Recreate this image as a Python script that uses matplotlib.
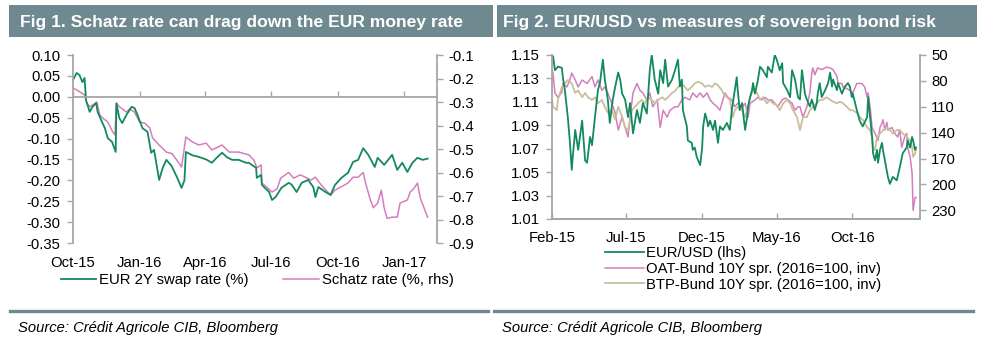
import numpy as np
import pandas as pd
import matplotlib
matplotlib.use("Agg")
import matplotlib.pyplot as plt
import matplotlib.dates as mdates
from matplotlib.patches import Rectangle
from matplotlib.lines import Line2D

plt.rcParams['font.family'] = ['Liberation Sans', 'DejaVu Sans']
plt.rcParams['axes.unicode_minus'] = False

HEAD = '#6E8A90'
SPINE = '#A6A6A6'
GREEN = '#138A5E'
PINK = '#D47DBF'
BEIGE = '#C9BF9B'

# ---------------- Fig 1 data ----------------
swap_dates = ["2015-10-01", "2015-10-06", "2015-10-10", "2015-10-14", "2015-10-17", "2015-10-19",
              "2015-10-24", "2015-10-28", "2015-11-02", "2015-11-04", "2015-11-10", "2015-11-14",
              "2015-11-18", "2015-11-24", "2015-11-29", "2015-11-30", "2015-12-04", "2015-12-08",
              "2015-12-14", "2015-12-21", "2015-12-25", "2015-12-29", "2016-01-05", "2016-01-12",
              "2016-01-17", "2016-01-21", "2016-01-28", "2016-02-02", "2016-02-07", "2016-02-14",
              "2016-02-21", "2016-02-28", "2016-03-03", "2016-03-05", "2016-03-14", "2016-03-23",
              "2016-04-02", "2016-04-10", "2016-04-17", "2016-04-24", "2016-05-01", "2016-05-08",
              "2016-05-17", "2016-05-27", "2016-05-31", "2016-06-10", "2016-06-11", "2016-06-17",
              "2016-06-18", "2016-06-28", "2016-07-02", "2016-07-07", "2016-07-15", "2016-07-25",
              "2016-07-29", "2016-08-05", "2016-08-12", "2016-08-21", "2016-08-28", "2016-08-31",
              "2016-09-04", "2016-09-14", "2016-09-21", "2016-09-27", "2016-10-06", "2016-10-15",
              "2016-10-22", "2016-10-29", "2016-11-05", "2016-11-12", "2016-11-21", "2016-11-25",
              "2016-12-04", "2016-12-15", "2016-12-22", "2016-12-29", "2017-01-05", "2017-01-12",
              "2017-01-19", "2017-01-26", "2017-02-02"]
swap_vals = [0.040, 0.057, 0.052, 0.035, 0.045, -0.008,
             -0.036, -0.024, -0.015, -0.036, -0.060, -0.075,
             -0.099, -0.108, -0.132, -0.016, -0.051, -0.063,
             -0.043, -0.024, -0.027, -0.043, -0.075, -0.084,
             -0.134, -0.127, -0.199, -0.170, -0.151, -0.165,
             -0.190, -0.218, -0.200, -0.132, -0.140, -0.144,
             -0.150, -0.158, -0.145, -0.134, -0.145, -0.151,
             -0.151, -0.158, -0.158, -0.170, -0.194, -0.187,
             -0.211, -0.228, -0.247, -0.240, -0.218, -0.206,
             -0.210, -0.228, -0.206, -0.199, -0.216, -0.240,
             -0.216, -0.228, -0.235, -0.211, -0.194, -0.182,
             -0.156, -0.151, -0.123, -0.139, -0.168, -0.146,
             -0.163, -0.139, -0.175, -0.158, -0.180, -0.158,
             -0.146, -0.151, -0.148]

schatz_dates = ["2015-10-01", "2015-10-06", "2015-10-13", "2015-10-17", "2015-10-20", "2015-10-24",
                "2015-10-28", "2015-11-03", "2015-11-07", "2015-11-11", "2015-11-18", "2015-11-25",
                "2015-11-28", "2015-11-30", "2015-12-04", "2015-12-14", "2015-12-18", "2015-12-25",
                "2016-01-01", "2016-01-08", "2016-01-15", "2016-01-19", "2016-01-28", "2016-02-07",
                "2016-02-15", "2016-02-21", "2016-02-28", "2016-03-05", "2016-03-14", "2016-03-23",
                "2016-04-02", "2016-04-10", "2016-04-24", "2016-05-04", "2016-05-17", "2016-05-31",
                "2016-06-07", "2016-06-11", "2016-06-17", "2016-06-18", "2016-06-24", "2016-07-02",
                "2016-07-09", "2016-07-14", "2016-07-25", "2016-08-01", "2016-08-10", "2016-08-17",
                "2016-08-25", "2016-08-31", "2016-09-08", "2016-09-21", "2016-09-27", "2016-10-06",
                "2016-10-15", "2016-10-22", "2016-10-29", "2016-11-05", "2016-11-09", "2016-11-15",
                "2016-11-19", "2016-11-25", "2016-11-30", "2016-12-04", "2016-12-08", "2016-12-15",
                "2016-12-22", "2016-12-26", "2017-01-05", "2017-01-09", "2017-01-14", "2017-01-19",
                "2017-01-23", "2017-01-28", "2017-02-02"]
schatz_vals = [-0.240, -0.249, -0.262, -0.270, -0.304, -0.320,
               -0.313, -0.300, -0.355, -0.368, -0.385, -0.428,
               -0.440, -0.304, -0.320, -0.343, -0.330, -0.343,
               -0.385, -0.390, -0.410, -0.453, -0.483, -0.513,
               -0.520, -0.545, -0.577, -0.449, -0.470, -0.483,
               -0.475, -0.504, -0.483, -0.513, -0.513, -0.525,
               -0.547, -0.580, -0.568, -0.645, -0.660, -0.683,
               -0.670, -0.624, -0.600, -0.624, -0.610, -0.620,
               -0.632, -0.620, -0.653, -0.696, -0.675, -0.660,
               -0.645, -0.620, -0.620, -0.600, -0.653, -0.717,
               -0.750, -0.730, -0.675, -0.750, -0.795, -0.790,
               -0.790, -0.730, -0.717, -0.683, -0.668, -0.645,
               -0.710, -0.750, -0.790]

fig1_xticks = ["2015-10-01", "2016-01-01", "2016-04-01", "2016-07-01", "2016-10-01", "2017-01-01"]
fig1_left_ticks = [0.10, 0.05, 0.00, -0.05, -0.10, -0.15, -0.20, -0.25, -0.30, -0.35]
fig1_right_ticks = [-0.1, -0.2, -0.3, -0.4, -0.5, -0.6, -0.7, -0.8, -0.9]

# ---------------- Fig 2 data ----------------
eur_dates = ["2015-02-01", "2015-02-03", "2015-02-07", "2015-02-13", "2015-02-21", "2015-02-23",
             "2015-02-27", "2015-03-05", "2015-03-09", "2015-03-13", "2015-03-15", "2015-03-20",
             "2015-03-26", "2015-04-03", "2015-04-09", "2015-04-13", "2015-04-19", "2015-04-23",
             "2015-04-29", "2015-05-05", "2015-05-09", "2015-05-15", "2015-05-19", "2015-05-25",
             "2015-05-29", "2015-06-04", "2015-06-09", "2015-06-15", "2015-06-19", "2015-06-23",
             "2015-06-29", "2015-07-05", "2015-07-09", "2015-07-15", "2015-07-23", "2015-07-29",
             "2015-08-04", "2015-08-12", "2015-08-18", "2015-08-22", "2015-08-28", "2015-09-04",
             "2015-09-08", "2015-09-14", "2015-09-18", "2015-09-24", "2015-10-02", "2015-10-08",
             "2015-10-14", "2015-10-18", "2015-10-22", "2015-10-24", "2015-11-01", "2015-11-03",
             "2015-11-11", "2015-11-13", "2015-11-17", "2015-11-21", "2015-11-28", "2015-12-02",
             "2015-12-04", "2015-12-08", "2015-12-12", "2015-12-14", "2015-12-18", "2015-12-24",
             "2015-12-28", "2016-01-03", "2016-01-07", "2016-01-13", "2016-01-21", "2016-01-27",
             "2016-01-31", "2016-02-06", "2016-02-10", "2016-02-12", "2016-02-16", "2016-02-21",
             "2016-02-23", "2016-02-27", "2016-03-02", "2016-03-04", "2016-03-08", "2016-03-12",
             "2016-03-14", "2016-03-18", "2016-03-24", "2016-03-28", "2016-04-03", "2016-04-11",
             "2016-04-13", "2016-04-21", "2016-04-27", "2016-05-01", "2016-05-07", "2016-05-12",
             "2016-05-14", "2016-05-22", "2016-05-28", "2016-06-01", "2016-06-07", "2016-06-13",
             "2016-06-17", "2016-06-21", "2016-06-23", "2016-06-27", "2016-07-01", "2016-07-07",
             "2016-07-11", "2016-07-17", "2016-07-21", "2016-07-23", "2016-07-27", "2016-07-31",
             "2016-08-07", "2016-08-13", "2016-08-17", "2016-08-21", "2016-08-23", "2016-08-31",
             "2016-09-02", "2016-09-10", "2016-09-16", "2016-09-22", "2016-09-26", "2016-09-30",
             "2016-10-02", "2016-10-10", "2016-10-16", "2016-10-22", "2016-10-31", "2016-11-02",
             "2016-11-06", "2016-11-10", "2016-11-12", "2016-11-16", "2016-11-20", "2016-11-22",
             "2016-11-26", "2016-11-30", "2016-12-02", "2016-12-06", "2016-12-12", "2016-12-16",
             "2016-12-22", "2016-12-30", "2017-01-05", "2017-01-11", "2017-01-19", "2017-01-21",
             "2017-01-26", "2017-01-30", "2017-02-01", "2017-02-05", "2017-02-07"]
eur_vals = [1.146, 1.149, 1.137, 1.140, 1.139, 1.131,
            1.120, 1.097, 1.077, 1.052, 1.063, 1.086,
            1.069, 1.094, 1.060, 1.058, 1.080, 1.073,
            1.097, 1.120, 1.126, 1.146, 1.129, 1.112,
            1.092, 1.112, 1.123, 1.135, 1.129, 1.117,
            1.112, 1.097, 1.109, 1.083, 1.103, 1.092,
            1.109, 1.100, 1.137, 1.150, 1.129, 1.117,
            1.137, 1.126, 1.146, 1.123, 1.129, 1.137,
            1.146, 1.123, 1.129, 1.103, 1.089, 1.077,
            1.075, 1.069, 1.071, 1.063, 1.056, 1.071,
            1.089, 1.100, 1.094, 1.089, 1.094, 1.086,
            1.094, 1.075, 1.089, 1.086, 1.092, 1.086,
            1.103, 1.120, 1.131, 1.120, 1.103, 1.109,
            1.100, 1.086, 1.097, 1.106, 1.114, 1.120,
            1.126, 1.117, 1.129, 1.140, 1.137, 1.131,
            1.140, 1.135, 1.150, 1.146, 1.137, 1.143,
            1.126, 1.120, 1.114, 1.137, 1.129, 1.114,
            1.112, 1.137, 1.131, 1.117, 1.112, 1.106,
            1.112, 1.103, 1.109, 1.117, 1.126, 1.114,
            1.120, 1.126, 1.135, 1.123, 1.129, 1.120,
            1.126, 1.117, 1.123, 1.126, 1.123, 1.114,
            1.117, 1.103, 1.094, 1.089, 1.097, 1.114,
            1.097, 1.080, 1.066, 1.060, 1.069, 1.058,
            1.069, 1.075, 1.069, 1.060, 1.046, 1.040,
            1.046, 1.043, 1.054, 1.066, 1.071, 1.077,
            1.071, 1.080, 1.077, 1.069, 1.071]

oat_dates = ["2015-02-01", "2015-02-03", "2015-02-07", "2015-02-13", "2015-02-21", "2015-02-23",
             "2015-03-03", "2015-03-09", "2015-03-13", "2015-03-20", "2015-03-26", "2015-04-03",
             "2015-04-13", "2015-04-23", "2015-04-29", "2015-05-05", "2015-05-13", "2015-05-19",
             "2015-05-25", "2015-06-02", "2015-06-09", "2015-06-15", "2015-06-23", "2015-06-29",
             "2015-07-05", "2015-07-09", "2015-07-15", "2015-07-23", "2015-07-29", "2015-08-04",
             "2015-08-12", "2015-08-18", "2015-08-24", "2015-09-02", "2015-09-08", "2015-09-14",
             "2015-09-22", "2015-09-28", "2015-10-08", "2015-10-14", "2015-10-22", "2015-10-28",
             "2015-11-07", "2015-11-13", "2015-11-21", "2015-11-28", "2015-12-04", "2015-12-12",
             "2015-12-18", "2015-12-24", "2016-01-01", "2016-01-07", "2016-01-11", "2016-01-17",
             "2016-01-23", "2016-01-31", "2016-02-06", "2016-02-12", "2016-02-21", "2016-02-27",
             "2016-03-04", "2016-03-08", "2016-03-18", "2016-03-24", "2016-04-01", "2016-04-07",
             "2016-04-13", "2016-04-21", "2016-04-27", "2016-05-03", "2016-05-12", "2016-05-18",
             "2016-05-24", "2016-06-01", "2016-06-07", "2016-06-13", "2016-06-17", "2016-06-23",
             "2016-07-01", "2016-07-07", "2016-07-11", "2016-07-13", "2016-07-17", "2016-07-23",
             "2016-07-31", "2016-08-10", "2016-08-17", "2016-08-23", "2016-08-31", "2016-09-02",
             "2016-09-10", "2016-09-12", "2016-09-20", "2016-09-26", "2016-10-02", "2016-10-10",
             "2016-10-20", "2016-10-26", "2016-10-31", "2016-11-02", "2016-11-06", "2016-11-10",
             "2016-11-16", "2016-11-22", "2016-11-26", "2016-11-30", "2016-12-02", "2016-12-06",
             "2016-12-10", "2016-12-12", "2016-12-20", "2016-12-26", "2017-01-01", "2017-01-05",
             "2017-01-09", "2017-01-15", "2017-01-19", "2017-01-21", "2017-01-26", "2017-01-30",
             "2017-02-01", "2017-02-05", "2017-02-07"]
oat_vals = [67, 71, 94, 99, 93, 83,
            87, 79, 71, 79, 87, 79,
            83, 75, 87, 79, 91, 87,
            94, 106, 117, 137, 122, 134,
            145, 122, 94, 83, 91, 94,
            102, 94, 110, 102, 134, 114,
            122, 114, 110, 110, 102, 99,
            102, 94, 99, 94, 99, 94,
            102, 106, 110, 114, 106, 94,
            99, 102, 110, 106, 110, 106,
            122, 106, 102, 99, 102, 99,
            102, 102, 106, 110, 102, 100,
            102, 106, 114, 110, 110, 122,
            110, 94, 71, 65, 73, 65,
            67, 64, 65, 67, 75, 83,
            83, 87, 89, 91, 94, 83,
            83, 87, 99, 94, 110, 134,
            141, 149, 134, 129, 125, 137,
            128, 137, 134, 141, 145, 137,
            157, 145, 141, 157, 168, 187,
            230, 215, 215]

btp_dates = ["2015-02-01", "2015-02-03", "2015-02-11", "2015-02-13", "2015-02-21", "2015-02-27",
             "2015-03-05", "2015-03-13", "2015-03-20", "2015-03-26", "2015-04-03", "2015-04-09",
             "2015-04-15", "2015-04-23", "2015-04-29", "2015-05-05", "2015-05-13", "2015-05-19",
             "2015-05-25", "2015-06-02", "2015-06-09", "2015-06-15", "2015-06-23", "2015-06-29",
             "2015-07-05", "2015-07-13", "2015-07-19", "2015-07-25", "2015-08-02", "2015-08-08",
             "2015-08-14", "2015-08-22", "2015-08-28", "2015-09-04", "2015-09-12", "2015-09-18",
             "2015-09-24", "2015-10-02", "2015-10-08", "2015-10-14", "2015-10-22", "2015-10-28",
             "2015-11-03", "2015-11-11", "2015-11-17", "2015-11-23", "2015-12-02", "2015-12-08",
             "2015-12-14", "2015-12-22", "2015-12-28", "2016-01-03", "2016-01-11", "2016-01-13",
             "2016-01-21", "2016-01-27", "2016-02-02", "2016-02-06", "2016-02-12", "2016-02-21",
             "2016-02-27", "2016-03-02", "2016-03-08", "2016-03-14", "2016-03-22", "2016-03-28",
             "2016-04-03", "2016-04-11", "2016-04-17", "2016-04-23", "2016-05-01", "2016-05-07",
             "2016-05-14", "2016-05-22", "2016-05-28", "2016-06-03", "2016-06-11", "2016-06-17",
             "2016-06-23", "2016-07-01", "2016-07-07", "2016-07-13", "2016-07-21", "2016-07-27",
             "2016-08-02", "2016-08-10", "2016-08-17", "2016-08-23", "2016-08-31", "2016-09-06",
             "2016-09-12", "2016-09-20", "2016-09-26", "2016-10-02", "2016-10-10", "2016-10-16",
             "2016-10-22", "2016-10-31", "2016-11-06", "2016-11-10", "2016-11-12", "2016-11-16",
             "2016-11-20", "2016-11-26", "2016-12-02", "2016-12-10", "2016-12-16", "2016-12-22",
             "2016-12-30", "2017-01-05", "2017-01-11", "2017-01-19", "2017-01-26", "2017-01-30",
             "2017-02-01", "2017-02-05", "2017-02-07"]
btp_vals = [102, 110, 114, 102, 87, 83,
            79, 83, 94, 91, 99, 94,
            99, 102, 99, 106, 102, 110,
            117, 114, 125, 110, 122, 134,
            137, 114, 110, 106, 102, 106,
            99, 102, 106, 102, 99, 102,
            99, 94, 92, 87, 83, 87,
            91, 87, 83, 81, 83, 87,
            85, 87, 83, 85, 91, 94,
            99, 102, 122, 114, 110, 114,
            122, 114, 99, 91, 94, 102,
            99, 106, 102, 106, 108, 114,
            106, 102, 106, 114, 122, 137,
            122, 122, 114, 110, 106, 102,
            102, 99, 102, 104, 106, 104,
            106, 110, 114, 114, 117, 122,
            125, 134, 137, 145, 157, 160,
            145, 141, 137, 134, 137, 141,
            137, 137, 141, 145, 149, 157,
            168, 164, 160]

fig2_xticks = ["2015-02-01", "2015-07-01", "2015-12-01", "2016-05-01", "2016-10-01"]
fig2_left_ticks = [1.01, 1.03, 1.05, 1.07, 1.09, 1.11, 1.13, 1.15]
fig2_right_ticks = [50, 80, 110, 140, 170, 200, 230]

TICK_FS = 10.7


def style_axes(ax, axr):
    for a in (ax, axr):
        a.spines['top'].set_visible(False)
        for s in a.spines.values():
            s.set_color(SPINE)
            s.set_linewidth(1.3)
    ax.spines['right'].set_visible(False)
    axr.spines['left'].set_visible(False)
    ax.tick_params(axis='y', direction='out', length=4, width=1, color=SPINE,
                   labelsize=TICK_FS, pad=5)
    axr.tick_params(axis='y', direction='out', length=4, width=1, color=SPINE,
                    labelsize=TICK_FS, pad=4)
    # left-axis line on top of the right-axis lines
    ax.set_zorder(axr.get_zorder() + 1)
    ax.patch.set_visible(False)


fig = plt.figure(figsize=(10, 3.49), dpi=100)

# title bars
for x0, w, tx, title in [(0.009, 0.484, 0.020, 'Fig 1. Schatz rate can drag down the EUR money rate'),
                         (0.497, 0.480, 0.503, 'Fig 2. EUR/USD vs measures of sovereign bond risk')]:
    fig.add_artist(Rectangle((x0, 1 - 37 / 349), w, 32 / 349, transform=fig.transFigure,
                             facecolor=HEAD, edgecolor='none'))
    fig.text(tx, 1 - 22 / 349, title, color='white', fontweight='bold', fontsize=12.6,
             va='center', ha='left')

# ---------------- Fig 1 ----------------
ax1 = fig.add_axes([0.073, 0.3037, 0.364, 0.5387])
ax1r = ax1.twinx()
l_swap, = ax1.plot(pd.to_datetime(swap_dates), swap_vals, color=GREEN, lw=1.3)
l_sch, = ax1r.plot(pd.to_datetime(schatz_dates), schatz_vals, color=PINK, lw=1.1)
style_axes(ax1, ax1r)

ax1.set_ylim(-0.35, 0.10)
ax1.set_yticks(fig1_left_ticks)
ax1.set_yticklabels([f'{v:.2f}' for v in fig1_left_ticks])
ax1r.set_ylim(-0.9, -0.1)
ax1r.set_yticks(fig1_right_ticks)
ax1r.set_yticklabels([f'{v:.1f}' for v in fig1_right_ticks])

x1t = mdates.date2num(pd.to_datetime(fig1_xticks))
ax1.set_xlim(mdates.date2num(pd.Timestamp('2015-10-01')), mdates.date2num(pd.Timestamp('2017-02-15')))
# x axis line sits on zero, labels stay at the bottom
ax1.spines['bottom'].set_position(('data', 0))
ax1r.spines['bottom'].set_visible(False)
ax1.set_xticks(x1t)
ax1.tick_params(axis='x', direction='in', length=4, width=1, color=SPINE, labelbottom=False)
sec = ax1.secondary_xaxis('bottom')
sec.set_xticks(x1t)
sec.xaxis.set_major_formatter(mdates.DateFormatter('%b-%y'))
sec.tick_params(length=0, pad=9, labelsize=TICK_FS)
sec.spines['bottom'].set_visible(False)

fig.legend([l_swap, l_sch], ['EUR 2Y swap rate (%)', 'Schatz rate (%, rhs)'],
           loc='center', bbox_to_anchor=(0.257, 1 - 280 / 349), ncol=2, frameon=False,
           fontsize=TICK_FS, handlelength=2.4, handletextpad=0.2, columnspacing=2.3,
           borderpad=0, borderaxespad=0)

# ---------------- Fig 2 ----------------
ax2 = fig.add_axes([0.552, 0.3725, 0.368, 0.470])
ax2r = ax2.twinx()
l_oat, = ax2r.plot(pd.to_datetime(oat_dates), oat_vals, color=PINK, lw=1.1)
l_btp, = ax2r.plot(pd.to_datetime(btp_dates), btp_vals, color=BEIGE, lw=1.3)
l_eur, = ax2.plot(pd.to_datetime(eur_dates), eur_vals, color=GREEN, lw=1.3)
style_axes(ax2, ax2r)

ax2.set_ylim(1.01, 1.15)
ax2.set_yticks(fig2_left_ticks)
ax2.set_yticklabels([f'{v:.2f}' for v in fig2_left_ticks])
ax2r.set_ylim(240, 50)
ax2r.set_yticks(fig2_right_ticks)

x2t = mdates.date2num(pd.to_datetime(fig2_xticks))
ax2.set_xlim(mdates.date2num(pd.Timestamp('2015-02-01')), mdates.date2num(pd.Timestamp('2017-02-15')))
ax2.set_xticks(x2t)
ax2.xaxis.set_major_formatter(mdates.DateFormatter('%b-%y'))
ax2.tick_params(axis='x', direction='in', length=4, width=1, color=SPINE,
                labelsize=TICK_FS, pad=9)

fig.legend([l_eur, l_oat, l_btp],
           ['EUR/USD (lhs)', 'OAT-Bund 10Y spr. (2016=100, inv)', 'BTP-Bund 10Y spr. (2016=100, inv)'],
           loc='upper left', bbox_to_anchor=(0.605, 1 - 246 / 349), ncol=1, frameon=False,
           fontsize=TICK_FS, handlelength=2.6, handletextpad=0.15, labelspacing=0.12,
           borderpad=0, borderaxespad=0)

# source lines
for x0, x1, tx in [(0.010, 0.488, 0.018), (0.494, 0.973, 0.502)]:
    fig.add_artist(Line2D([x0, x1], [1 - 311 / 349] * 2, color=HEAD, lw=2.4,
                          transform=fig.transFigure))
    fig.text(tx, 1 - 328 / 349, 'Source: Crédit Agricole CIB, Bloomberg', style='italic',
             fontsize=10.6, va='center', ha='left')

fig.savefig('out.png', dpi=100)
